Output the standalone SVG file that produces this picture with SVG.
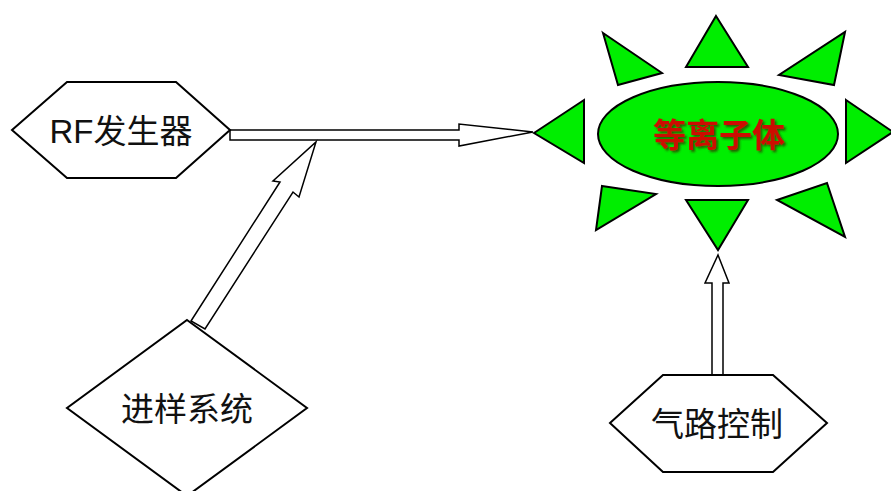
<svg xmlns="http://www.w3.org/2000/svg" width="891" height="491" viewBox="0 0 891 491">
<defs>
<filter id="shadow" x="-10%" y="-20%" width="130%" height="150%">
<feDropShadow dx="2" dy="2" stdDeviation="0.8" flood-color="#333300" flood-opacity="0.75"/>
</filter>
</defs>
<style>
.shape{fill:#fff;stroke:#000;stroke-width:2;stroke-linejoin:miter}
.arrow{fill:#fff;stroke:#000;stroke-width:1.5;stroke-linejoin:miter}
.ray{fill:#00ee00;stroke:#000;stroke-width:2;stroke-linejoin:miter}
.lbl{font-family:"Liberation Sans","Noto Sans CJK SC",sans-serif;font-size:33px;fill:#111;text-anchor:middle;dominant-baseline:central}
.plasma{font-family:"Noto Sans CJK SC",sans-serif;font-size:33px;font-weight:bold;text-anchor:middle;dominant-baseline:central;fill:#cc1100;filter:url(#shadow)}
</style>
<rect width="891" height="491" fill="#fff"/>
<g id="connectors">
<polygon class="arrow" points="230,130 459,130 459,124 533,132 459,146 459,140 230,140"/>
<polygon class="arrow" points="191,321 280,182 273,181 316,142 299,197 293,192 205,329"/>
<polygon class="arrow" points="712,375 712,283 705,283 718,255 729,283 723,283 723,375"/>
</g>
<g id="rf">
<polygon class="shape" points="12,130 67,82 176,82 230,130 176,178 67,178"/>
<text class="lbl" x="121" y="131">RF发生器</text>
</g>
<g id="sampling">
<polygon class="shape" points="187,320 307,408 187,496 67,408"/>
<text class="lbl" x="187" y="409">进样系统</text>
</g>
<g id="gas">
<polygon class="shape" points="610,423 663,375 773,375 827,423 773,472 663,472"/>
<text class="lbl" x="717" y="424">气路控制</text>
</g>
<g id="plasma">
<polygon class="ray" points="716,16 748,67 686,67"/>
<polygon class="ray" points="603,33 662,73 618,85"/>
<polygon class="ray" points="845,32 834,85 779,75"/>
<polygon class="ray" points="534,133 584,100 584,163"/>
<polygon class="ray" points="846,100 893,132 846,163"/>
<polygon class="ray" points="602,186 656,194 596,230"/>
<polygon class="ray" points="686,200 748,200 718,250"/>
<polygon class="ray" points="827,183 845,237 777,200"/>
<ellipse class="ray" cx="718" cy="134" rx="120" ry="52"/>
<text class="plasma" x="719" y="133">等离子体</text>
</g>
</svg>
